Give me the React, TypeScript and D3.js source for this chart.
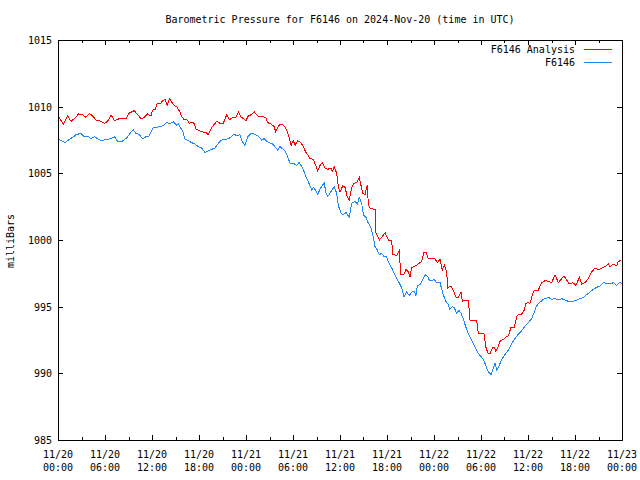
import React from "react";
import * as d3 from "d3";

const TITLE = "Barometric Pressure for F6146 on 2024-Nov-20 (time in UTC)";
const Y_LABEL = "milliBars";
const SERIES_NAMES = ["F6146 Analysis", "F6146"];
const SERIES_COLORS = ["#ff0000", "#1e88ff"];
const Y_TICKS = [985, 990, 995, 1000, 1005, 1010, 1015];
const START = Date.UTC(2024, 10, 20, 0, 0);
const END = Date.UTC(2024, 10, 23, 0, 0);

// hours since 2024-11-20 00:00 UTC
const analysisHours = [
  0.0, 0.34, 0.68, 1.24, 1.66, 2.08, 2.64, 3.15, 3.57, 4.0, 4.43, 4.85, 5.49, 5.91, 6.34, 6.77, 7.19, 7.83, 8.68, 9.03,
  9.74, 10.17, 10.6, 11.02, 11.45, 11.87, 12.09, 12.42, 12.68, 13.02, 13.37, 13.66, 13.95, 14.21, 14.52, 14.81, 15.15,
  15.58, 15.79, 16.09, 16.43, 16.76, 17.07, 17.36, 17.62, 18.04, 18.47, 18.89, 19.19, 19.49, 19.83, 20.26, 20.68, 21.1,
  21.54, 21.87, 22.3, 22.72, 23.02, 23.32, 23.66, 24.0, 24.29, 24.51, 25.06, 25.49, 26.0, 26.51, 26.77, 27.19, 27.61,
  27.79, 28.12, 28.47, 28.89, 29.2, 29.49, 29.75, 30.04, 30.26, 30.6, 31.02, 31.32, 31.62, 31.88, 32.17, 32.59, 32.9,
  33.15, 33.45, 33.74, 34.09, 34.43, 34.85, 35.02, 35.27, 35.58, 35.78, 36.0, 36.34, 36.64, 36.93, 37.19, 37.49, 37.79,
  38.13, 38.46, 38.9, 39.19, 39.49, 39.62, 39.92, 40.47, 40.6, 41.02, 41.32, 41.75, 42.17, 42.6, 42.73, 43.24, 43.57,
  43.75, 44.17, 44.43, 44.72, 44.94, 45.15, 45.58, 46.0, 46.43, 46.72, 46.98, 47.27, 47.71, 48.13, 48.42, 48.77, 49.06,
  49.32, 49.62, 49.75, 50.17, 50.47, 50.77, 51.03, 51.32, 51.45, 51.61, 51.96, 52.38, 52.6, 53.02, 53.45, 53.66, 54.09,
  54.42, 54.6, 54.86, 55.15, 55.45, 55.7, 55.88, 56.13, 56.43, 56.85, 57.15, 57.49, 57.83, 58.25, 58.56, 58.85, 59.2,
  59.53, 59.71, 60.04, 60.26, 60.55, 60.81, 61.32, 61.75, 62.17, 62.6, 63.03, 63.45, 63.87, 64.3, 64.6, 64.94, 65.28,
  65.71, 66.13, 66.55, 66.86, 67.28, 67.7, 68.13, 68.55, 68.98, 69.41, 69.83, 70.25, 70.47, 70.89, 71.32, 71.53, 71.84,
];
const analysisValues = [
  1009.3, 1009.0, 1008.7, 1009.3, 1008.9, 1009.1, 1009.45, 1009.4, 1009.2, 1009.5, 1009.3, 1009.0, 1008.9, 1008.75,
  1008.9, 1009.4, 1008.95, 1009.1, 1009.1, 1009.5, 1009.7, 1009.4, 1009.1, 1009.2, 1009.45, 1009.3, 1009.75, 1009.8,
  1010.25, 1010.2, 1010.45, 1010.55, 1010.1, 1010.6, 1010.35, 1010.1, 1010.0, 1009.6, 1009.25, 1009.05, 1009.05,
  1008.75, 1008.85, 1008.75, 1008.3, 1008.2, 1008.1, 1008.05, 1007.9, 1008.3, 1008.6, 1008.9, 1008.75, 1008.75, 1009.4,
  1009.0, 1009.2, 1009.2, 1009.6, 1009.25, 1009.1, 1008.95, 1009.3, 1009.35, 1009.6, 1009.3, 1009.25, 1009.2, 1008.8,
  1008.7, 1008.5, 1008.1, 1008.55, 1008.7, 1008.55, 1008.25, 1007.75, 1007.1, 1007.45, 1007.1, 1007.45, 1007.3, 1007.0,
  1006.6, 1006.4, 1006.1, 1006.05, 1005.6, 1005.2, 1005.6, 1005.8, 1005.4, 1005.3, 1005.4, 1005.15, 1005.5, 1005.0,
  1004.05, 1003.6, 1004.05, 1003.95, 1003.25, 1003.0, 1003.9, 1004.25, 1004.3, 1004.7, 1003.5, 1003.4, 1004.15, 1002.6,
  1002.35, 1002.3, 1000.5, 1000.0, 1000.2, 1000.55, 1000.0, 999.95, 998.9, 998.85, 999.2, 997.45, 997.45, 997.8, 997.6,
  997.25, 997.9, 998.05, 998.2, 998.4, 999.05, 999.1, 998.6, 998.6, 998.6, 998.3, 998.55, 997.75, 998.1, 997.6, 996.4,
  996.55, 996.2, 995.75, 995.65, 995.95, 996.1, 995.4, 995.5, 995.5, 994.0, 993.95, 994.0, 993.0, 993.0, 992.95, 992.0,
  991.55, 991.45, 991.9, 991.95, 991.65, 991.9, 992.4, 992.55, 992.7, 992.8, 993.45, 993.45, 994.25, 994.45, 994.45,
  994.75, 995.25, 995.3, 995.25, 995.9, 996.25, 996.25, 996.8, 996.95, 996.9, 996.8, 997.4, 996.8, 997.1, 997.3, 997.0,
  996.7, 996.8, 996.6, 997.2, 996.7, 996.8, 997.1, 997.6, 997.9, 997.75, 997.9, 998.0, 998.2, 998.0, 998.2, 998.05,
  998.4, 998.45,
];

const observedHours = [
  0.0, 0.6, 0.93, 1.44, 1.88, 2.3, 2.94, 3.36, 3.79, 4.21, 4.64, 5.07, 5.49, 5.91, 6.34, 6.77, 7.19, 7.62, 8.04, 8.46,
  8.9, 9.32, 9.61, 9.96, 10.38, 10.81, 11.23, 11.66, 12.09, 12.42, 13.02, 13.44, 13.88, 14.3, 14.72, 15.15, 15.36, 15.66,
  16.0, 16.17, 16.63, 17.07, 17.49, 17.91, 18.35, 18.77, 19.19, 19.62, 20.04, 20.47, 20.9, 21.32, 21.74, 22.17, 22.47,
  22.81, 23.23, 23.5, 23.87, 24.22, 24.64, 25.06, 25.57, 26.0, 26.3, 26.64, 26.94, 27.28, 27.7, 28.05, 28.34, 28.76,
  29.07, 29.32, 29.62, 30.04, 30.47, 30.77, 31.11, 31.44, 31.75, 32.04, 32.39, 32.59, 32.81, 33.15, 33.45, 33.74, 34.0,
  34.18, 34.43, 34.72, 35.02, 35.27, 35.58, 35.78, 36.13, 36.43, 36.77, 37.19, 37.49, 37.91, 38.21, 38.46, 38.77, 38.98,
  39.32, 39.62, 39.92, 40.18, 40.47, 40.76, 41.02, 41.32, 41.62, 41.87, 42.17, 42.6, 43.02, 43.45, 43.88, 44.17, 44.51,
  44.85, 45.15, 45.45, 45.7, 45.87, 46.21, 46.56, 46.85, 47.15, 47.4, 47.71, 48.0, 48.34, 48.77, 48.9, 49.19, 49.5,
  49.83, 50.04, 50.34, 50.6, 50.9, 51.19, 51.45, 51.74, 52.04, 52.38, 52.72, 53.02, 53.32, 53.66, 54.0, 54.3, 54.6,
  54.94, 55.28, 55.57, 55.79, 56.0, 56.3, 56.64, 57.06, 57.49, 57.92, 58.34, 58.77, 59.2, 59.62, 60.04, 60.47, 60.81,
  61.02, 61.45, 61.96, 62.6, 63.03, 63.45, 63.87, 64.3, 64.72, 65.15, 65.79, 66.43, 67.06, 67.49, 67.91, 68.34, 68.77,
  69.19, 69.62, 70.05, 70.47, 70.89, 71.32, 71.66, 72.0,
];
const observedValues = [
  1007.6, 1007.4, 1007.3, 1007.55, 1007.7, 1007.9, 1008.0, 1007.75, 1007.8, 1007.6, 1007.75, 1007.6, 1007.45, 1007.5,
  1007.55, 1007.6, 1007.75, 1007.4, 1007.35, 1007.5, 1007.75, 1008.1, 1008.25, 1008.0, 1007.9, 1007.6, 1007.75, 1007.8,
  1008.4, 1008.45, 1008.5, 1008.6, 1008.8, 1008.75, 1008.85, 1008.6, 1008.75, 1008.4, 1008.05, 1007.6, 1007.45, 1007.3,
  1007.2, 1007.0, 1006.9, 1006.55, 1006.7, 1006.8, 1006.9, 1007.25, 1007.5, 1007.55, 1007.6, 1007.75, 1007.95, 1007.8,
  1007.9, 1007.4, 1007.1, 1007.75, 1008.0, 1007.95, 1007.8, 1007.5, 1007.6, 1007.4, 1007.3, 1007.25, 1007.0, 1006.75,
  1007.0, 1006.8, 1006.6, 1006.25, 1005.75, 1005.75, 1005.6, 1005.8, 1005.5, 1005.1, 1004.6, 1004.25, 1003.75, 1003.95,
  1003.8, 1003.4, 1003.8, 1004.1, 1004.25, 1003.6, 1003.25, 1003.5, 1003.8, 1004.0, 1003.5, 1002.6, 1002.0, 1001.9,
  1002.05, 1001.7, 1002.75, 1002.9, 1002.7, 1003.2, 1002.75, 1001.9, 1001.7, 1001.25, 1001.0, 1000.4, 999.5, 999.25,
  998.9, 999.0, 998.75, 998.8, 998.4, 997.9, 997.4, 996.9, 996.4, 995.75, 996.1, 995.85, 996.1, 996.15, 995.85, 996.6,
  996.65, 997.0, 997.4, 997.3, 997.0, 996.95, 997.05, 996.8, 996.85, 996.5, 995.9, 995.4, 995.15, 994.8, 995.0, 994.9,
  994.5, 994.75, 994.5, 994.1, 993.5, 993.0, 992.6, 992.2, 991.9, 991.5, 991.25, 991.05, 990.6, 990.1, 989.9, 990.4,
  990.8, 990.25, 990.55, 991.05, 991.4, 991.75, 992.25, 992.6, 992.95, 993.2, 993.55, 993.8, 994.1, 994.6, 995.0,
  995.3, 995.55, 995.7, 995.55, 995.6, 995.5, 995.6, 995.5, 995.4, 995.4, 995.55, 995.7, 995.9, 996.1, 996.3, 996.45,
  996.55, 996.8, 996.75, 996.7, 996.8, 996.6, 996.8, 996.75,
];

const W = 640;
const H = 480;
const M = { left: 58, right: 622, top: 40, bottom: 440 };
const FONT = "'DejaVu Sans Mono', monospace";

export default function App() {
  const x = d3.scaleUtc().domain([new Date(START), new Date(END)]).range([M.left, M.right]);
  const y = d3.scaleLinear().domain([985, 1015]).range([M.bottom, M.top]);
  const toDate = (h: number) => new Date(START + h * 3600 * 1000);

  const line = d3
    .line<[number, number]>()
    .x((d) => x(toDate(d[0])))
    .y((d) => y(d[1]))
    .curve(d3.curveLinear);

  const series = [
    analysisHours.map((h, i) => [h, analysisValues[i]] as [number, number]),
    observedHours.map((h, i) => [h, observedValues[i]] as [number, number]),
  ];

  const majorTicks = x.ticks(d3.utcHour.every(6)!);
  const minorTicks = x.ticks(d3.utcHour.every(3)!).filter((t) => t.getUTCHours() % 6 !== 0);
  const fmtDate = d3.utcFormat("%m/%d");
  const fmtTime = d3.utcFormat("%H:%M");
  const px = (v: number) => Math.round(v) + 0.5;

  return (
    <svg
      width={W}
      height={H}
      style={{ position: "absolute", left: 0, top: 0, background: "#fff" }}
      fontFamily={FONT}
      fontSize={10}
    >
      <rect x={0} y={0} width={W} height={H} fill="#fff" />
      <text x={340} y={23} textAnchor="middle" fill="#000">
        {TITLE}
      </text>
      <text transform={`translate(14,241) rotate(-90)`} textAnchor="middle" fill="#000">
        {Y_LABEL}
      </text>

      {/* y ticks */}
      {Y_TICKS.map((t) => (
        <g key={t}>
          <line x1={M.left} x2={M.left + 5} y1={px(y(t))} y2={px(y(t))} stroke="#000" shapeRendering="crispEdges" />
          <line x1={M.right - 5} x2={M.right} y1={px(y(t))} y2={px(y(t))} stroke="#000" shapeRendering="crispEdges" />
          <text x={52} y={y(t) + 4} textAnchor="end" fill="#000">
            {t}
          </text>
        </g>
      ))}

      {/* x ticks */}
      {majorTicks.map((t, i) => (
        <g key={i}>
          <line x1={px(x(t))} x2={px(x(t))} y1={M.bottom} y2={M.bottom - 5} stroke="#000" shapeRendering="crispEdges" />
          <line x1={px(x(t))} x2={px(x(t))} y1={M.top} y2={M.top + 5} stroke="#000" shapeRendering="crispEdges" />
          <text x={x(t)} y={458} textAnchor="middle" fill="#000">
            {fmtDate(t)}
          </text>
          <text x={x(t)} y={471} textAnchor="middle" fill="#000">
            {fmtTime(t)}
          </text>
        </g>
      ))}
      {minorTicks.map((t, i) => (
        <g key={"m" + i}>
          <line x1={px(x(t))} x2={px(x(t))} y1={M.bottom} y2={M.bottom - 3} stroke="#000" shapeRendering="crispEdges" />
          <line x1={px(x(t))} x2={px(x(t))} y1={M.top} y2={M.top + 3} stroke="#000" shapeRendering="crispEdges" />
        </g>
      ))}

      {/* series */}
      {series.map((s, i) => (
        <path
          key={i}
          d={line(s) || ""}
          fill="none"
          stroke={SERIES_COLORS[i]}
          strokeWidth={1}
          shapeRendering="crispEdges"
        />
      ))}

      {/* border */}
      <rect
        x={M.left + 0.5}
        y={M.top + 0.5}
        width={M.right - M.left}
        height={M.bottom - M.top}
        fill="none"
        stroke="#000"
        shapeRendering="crispEdges"
      />

      {/* legend */}
      {SERIES_NAMES.map((n, i) => (
        <g key={n}>
          <text x={575} y={53 + i * 13} textAnchor="end" fill="#000">
            {n}
          </text>
          <line
            x1={584}
            x2={612}
            y1={49.5 + i * 13}
            y2={49.5 + i * 13}
            stroke={SERIES_COLORS[i]}
            shapeRendering="crispEdges"
          />
        </g>
      ))}
    </svg>
  );
}
